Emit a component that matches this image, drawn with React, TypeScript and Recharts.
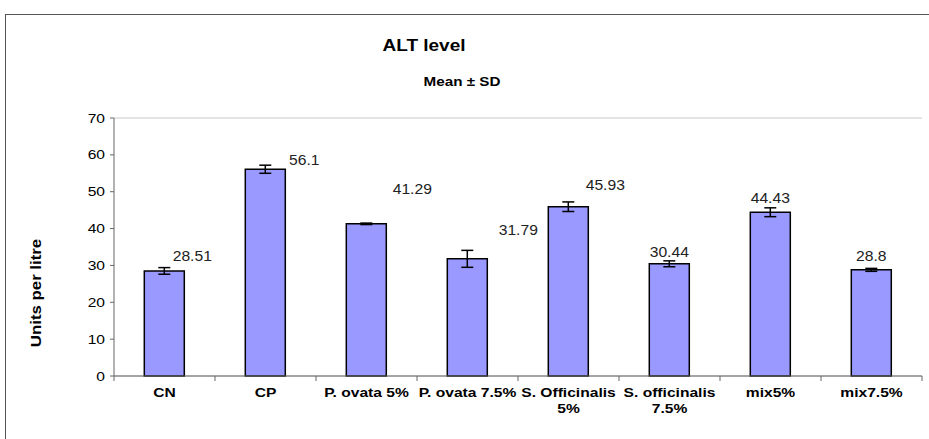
import { BarChart, Bar, XAxis, YAxis, CartesianGrid, ErrorBar, LabelList } from 'recharts';

const categories = ['CN', 'CP', 'P. ovata 5%', 'P. ovata 7.5%', 'S. Officinalis 5%', 'S. officinalis 7.5%', 'mix5%', 'mix7.5%'];
const tickLines = [['CN'], ['CP'], ['P. ovata 5%'], ['P. ovata 7.5%'], ['S. Officinalis', '5%'], ['S. officinalis', '7.5%'], ['mix5%'], ['mix7.5%']];
const means = [28.51, 56.1, 41.29, 31.79, 45.93, 30.44, 44.43, 28.8];
const sds = [0.9, 1.1, 0.2, 2.3, 1.3, 0.8, 1.2, 0.4];
const yTicks = [0, 10, 20, 30, 40, 50, 60, 70];

// label nudges, Excel put them in odd places
const labelDx = [28, 39, 46, 51, 37, 0, 0, 0];
const labelDy = [-15, -9, -35, -29, -22, -12, -14, -14];

const data = categories.map((c, i) => ({ name: c, mean: means[i], sd: sds[i] }));

const font = 'Liberation Sans, Arial, sans-serif';

function XTick(props: any) {
  const { x, y, payload, index } = props;
  const lines = tickLines[index] ?? [payload.value];
  return (
    <g>
      <line x1={x - 50.5} x2={x - 50.5} y1={y - 8} y2={y - 3} stroke="#666" />
      {index === categories.length - 1 && (
        <line x1={x + 50.5} x2={x + 50.5} y1={y - 8} y2={y - 3} stroke="#666" />
      )}
      {lines.map((l: string, k: number) => (
        <text
          key={k}
          transform={`translate(${x},${y + 13 + k * 16}) scale(1.25,1)`}
          textAnchor="middle"
          fontFamily={font}
          fontWeight="bold"
          fontSize={12.5}
          fill="#000"
        >
          {l}
        </text>
      ))}
    </g>
  );
}

function YTick(props: any) {
  const { x, y, payload } = props;
  return (
    <text transform={`translate(${x - 3},${y + 4.5}) scale(1.2,1)`} textAnchor="end" fontFamily={font} fontSize={13} fill="#000">
      {payload.value}
    </text>
  );
}

function ValueLabel(props: any) {
  const { x, y, width, index, value } = props;
  const cx = x + width / 2 + labelDx[index];
  const cy = y + labelDy[index] + 5;
  return (
    <text transform={`translate(${cx},${cy}) scale(1.12,1)`} textAnchor="middle" fontFamily={font} fontSize={14} fill="#222">
      {value}
    </text>
  );
}

function YTitle() {
  return (
    <text transform="translate(41,293) rotate(-90) scale(1.16,1)" textAnchor="middle" fontFamily={font} fontWeight="bold" fontSize={14.5} fill="#000">
      Units per litre
    </text>
  );
}

export default function App() {
  return (
    <div style={{ position: 'absolute', left: 0, top: 0, width: 929, height: 439, background: '#fff' }}>
      <div style={{ position: 'absolute', left: 5, top: 14, right: 0, bottom: 0, borderTop: '1px solid #555', borderLeft: '1px solid #555' }} />
      <div style={{ position: 'absolute', left: 324, width: 200, top: 36, textAlign: 'center', fontFamily: font, fontWeight: 'bold', fontSize: 16.5, transform: 'scaleX(1.15)' }}>
        ALT level
      </div>
      <div style={{ position: 'absolute', left: 362, width: 200, top: 74, textAlign: 'center', fontFamily: font, fontWeight: 'bold', fontSize: 13, transform: 'scaleX(1.17)' }}>
        Mean ± SD
      </div>
      <BarChart
        width={929}
        height={439}
        data={data}
        margin={{ top: 118, right: 7, bottom: 0, left: 0 }}
        barCategoryGap="30%"
        style={{ position: 'absolute', left: 0, top: 0 }}
      >
        <CartesianGrid vertical={false} stroke="#c8c8c8" />
        <XAxis dataKey="name" height={63} interval={0} tickLine={false} axisLine={{ stroke: '#666' }} tick={<XTick />} />
        <YAxis
          yAxisId="left"
          width={114}
          domain={[0, 70]}
          ticks={yTicks}
          tickSize={4}
          tickLine={{ stroke: '#666' }}
          axisLine={{ stroke: '#666' }}
          tick={<YTick />}
          label={<YTitle />}
        />
        <YAxis yAxisId="right" orientation="right" width={0} domain={[0, 70]} tick={false} tickLine={false} axisLine={{ stroke: '#999' }} />
        <Bar yAxisId="left" dataKey="mean" fill="#9999ff" stroke="#000" strokeWidth={1.5} isAnimationActive={false}>
          <ErrorBar dataKey="sd" width={6} stroke="#000" strokeWidth={1.5} />
          <LabelList dataKey="mean" content={<ValueLabel />} />
        </Bar>
      </BarChart>
    </div>
  );
}
